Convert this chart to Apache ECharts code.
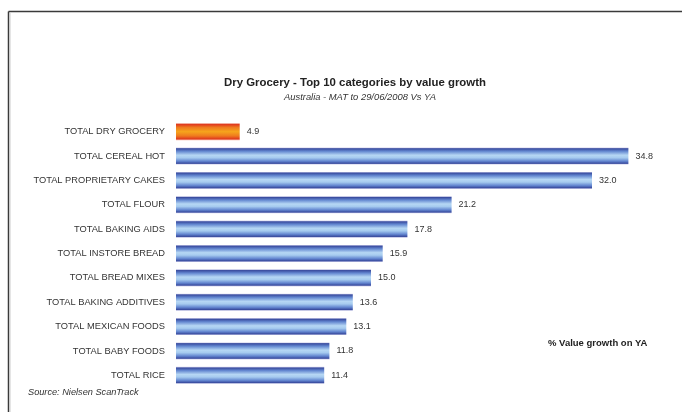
<!DOCTYPE html>
<html>
<head>
<meta charset="utf-8">
<style>
  html, body { margin: 0; padding: 0; background: #fff; }
  #chart { width: 682px; height: 412px; }
</style>
<script src="https://cdn.jsdelivr.net/npm/echarts@6/dist/echarts.min.js"></script>
</head>
<body>
<div id="chart"></div>
<script>
// Top 10 dry grocery categories by value growth, plus the category total
const categories = [
  'TOTAL DRY GROCERY',
  'TOTAL CEREAL HOT',
  'TOTAL PROPRIETARY CAKES',
  'TOTAL FLOUR',
  'TOTAL BAKING AIDS',
  'TOTAL INSTORE BREAD',
  'TOTAL BREAD MIXES',
  'TOTAL BAKING ADDITIVES',
  'TOTAL MEXICAN FOODS',
  'TOTAL BABY FOODS',
  'TOTAL RICE'
];
const growth = [4.9, 34.8, 32.0, 21.2, 17.8, 15.9, 15.0, 13.6, 13.1, 11.8, 11.4];
const highlightIndex = 0;

const font = 'Liberation Sans, Arial, sans-serif';

function tube(stops) {
  return new echarts.graphic.LinearGradient(0, 0, 0, 1, stops);
}
const blueFill = tube([
  { offset: 0, color: '#d4d4ee' },
  { offset: 0.07, color: '#3a4da0' },
  { offset: 0.22, color: '#6387d0' },
  { offset: 0.45, color: '#b6d7f4' },
  { offset: 0.6, color: '#a6cbef' },
  { offset: 0.8, color: '#6386d0' },
  { offset: 0.93, color: '#3a4da0' },
  { offset: 1, color: '#d4d4ee' }
]);
const orangeFill = tube([
  { offset: 0, color: '#f2b0a0' },
  { offset: 0.08, color: '#e03c1e' },
  { offset: 0.25, color: '#ef7a1e' },
  { offset: 0.5, color: '#f6a51c' },
  { offset: 0.75, color: '#ef7a1e' },
  { offset: 0.92, color: '#e03c1e' },
  { offset: 1, color: '#f2b0a0' }
]);

const chart = echarts.init(document.getElementById('chart'), null, { renderer: 'canvas' });

chart.setOption({
  animation: false,
  backgroundColor: '#ffffff',
  title: [
    {
      text: 'Dry Grocery - Top 10 categories by value growth',
      left: 350, top: 72, textAlign: 'center',
      textStyle: { fontFamily: font, fontSize: 11.4, fontWeight: 'bold', color: '#222' }
    },
    {
      text: 'Australia - MAT to 29/06/2008 Vs YA',
      left: 355, top: 87.5, textAlign: 'center',
      textStyle: { fontFamily: font, fontSize: 9.4, fontStyle: 'italic', fontWeight: 'normal', color: '#333' }
    }
  ],
  grid: { left: 176, top: 119.5, width: 455, height: 268, containLabel: false },
  xAxis: {
    type: 'value', min: 0, max: 35, show: false
  },
  yAxis: {
    type: 'category',
    data: categories,
    inverse: true,
    axisLine: { show: false },
    axisTick: { show: false },
    splitLine: { show: false },
    axisLabel: {
      margin: 11,
      fontFamily: font, fontSize: 9.3, color: '#333'
    }
  },
  series: [{
    type: 'bar',
    data: growth.map((v, i) => ({
      value: v,
      itemStyle: { color: i === highlightIndex ? orangeFill : blueFill }
    })),
    barCategoryGap: '30%',
    label: {
      show: true, position: 'right', distance: 7,
      formatter: p => p.value.toFixed(1),
      fontFamily: font, fontSize: 9, color: '#333'
    }
  }],
  graphic: [
    // frame
    { type: 'line', shape: { x1: 8.5, y1: 11.5, x2: 682, y2: 11.5 }, style: { stroke: '#3a3a3a', lineWidth: 1.5 } },
    { type: 'line', shape: { x1: 8.5, y1: 11.5, x2: 8.5, y2: 412 }, style: { stroke: '#3a3a3a', lineWidth: 1.5 } },
    { type: 'line', shape: { x1: 10, y1: 13, x2: 10, y2: 412 }, style: { stroke: '#cccccc', lineWidth: 1 } },
    {
      type: 'text', left: 548, top: 338,
      style: { text: '% Value growth on YA', fontFamily: font, fontSize: 9.5, fontWeight: 'bold', fill: '#222' }
    },
    {
      type: 'text', left: 28, top: 388,
      style: { text: 'Source: Nielsen ScanTrack', fontFamily: font, fontSize: 9.2, fontStyle: 'italic', fill: '#333' }
    }
  ]
});
</script>
</body>
</html>
